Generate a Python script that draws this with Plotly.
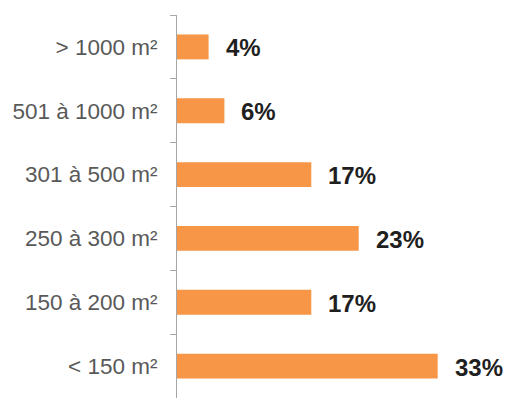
import plotly.graph_objects as go

# Surface classes, listed bottom to top as drawn on the category axis
categories = ["< 150 m²", "150 à 200 m²", "250 à 300 m²", "301 à 500 m²", "501 à 1000 m²", "> 1000 m²"]
shares = [33, 17, 23, 17, 6, 4]
share_labels = ["33%", "17%", "23%", "17%", "6%", "4%"]

BAR_COLOR = "#F79646"
AXIS_COLOR = "#A6A6A6"

fig = go.Figure(
    go.Bar(
        x=shares,
        y=categories,
        orientation="h",
        marker=dict(color=BAR_COLOR, line=dict(width=0)),
        hoverinfo="skip",
    )
)

# Bold percentage labels to the right of each bar
for cat, val, lab in zip(categories, shares, share_labels):
    fig.add_annotation(
        x=val, y=cat, text=f"<b>{lab}</b>",
        xanchor="left", yanchor="middle", xshift=15, yshift=-1, showarrow=False,
        font=dict(family="Liberation Sans, Arial, sans-serif", size=24, color="#1F1F1F"),
    )

fig.update_layout(
    width=508, height=398,
    margin=dict(l=177, r=0, t=15, b=0),
    paper_bgcolor="white", plot_bgcolor="white",
    bargap=0.61,
    showlegend=False,
    xaxis=dict(visible=False, range=[0, 41.9], fixedrange=True),
    yaxis=dict(
        type="category",
        categoryorder="array", categoryarray=categories,
        showline=True, linecolor=AXIS_COLOR, linewidth=1,
        ticks="outside", tickson="boundaries", ticklen=6, tickcolor=AXIS_COLOR, tickwidth=1,
        ticklabelstandoff=14,
        showgrid=False, zeroline=False,
        tickfont=dict(family="Liberation Sans, Arial, sans-serif", size=22.5, color="#595959"),
        fixedrange=True,
    ),
)

fig.write_html("out.html")
